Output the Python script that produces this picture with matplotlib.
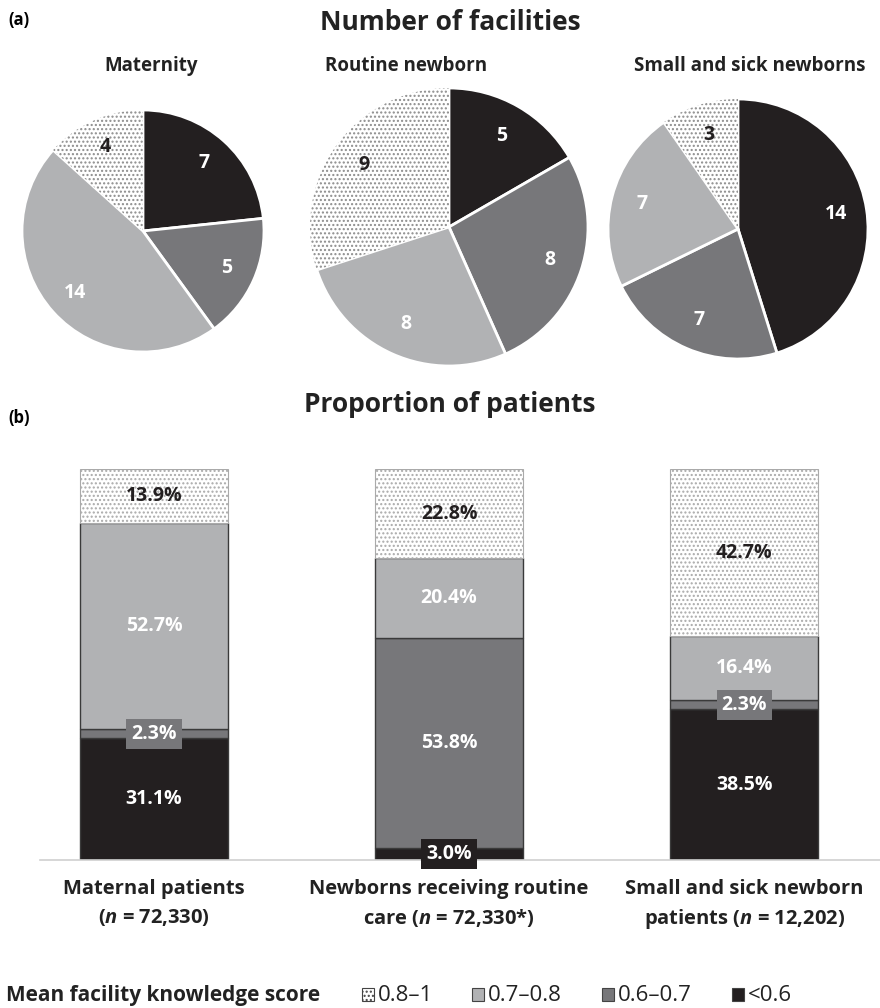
import matplotlib.pyplot as plt
from matplotlib.patches import Rectangle
import numpy as np

plt.rcParams['font.family'] = ['Open Sans', 'DejaVu Sans']
plt.rcParams['mathtext.fontset'] = 'custom'
plt.rcParams['mathtext.it'] = 'Open Sans:italic:bold'
plt.rcParams['mathtext.rm'] = 'Open Sans:bold'

# facility counts per score band: <0.6, 0.6-0.7, 0.7-0.8, 0.8-1
pie_titles = ["Maternity", "Routine newborn", "Small and sick newborns"]
fac_maternity = [7, 5, 14, 4]
fac_routine = [5, 8, 8, 9]
fac_small_sick = [14, 7, 7, 3]

# share of patients (%) per score band
bar_labels = ["Maternal patients\n($\\it{n}$ = 72,330)",
              "Newborns receiving routine\ncare ($\\it{n}$ = 72,330*)",
              "Small and sick newborn\npatients ($\\it{n}$ = 12,202)"]
pat_lt06 = [31.1, 3.0, 38.5]
pat_0607 = [2.3, 53.8, 2.3]
pat_0708 = [52.7, 20.4, 16.4]
pat_081 = [13.9, 22.8, 42.7]

band_names = ["0.8\u20131", "0.7\u20130.8", "0.6\u20130.7", "<0.6"]

BLACK = "#231f20"
DARK = "#77777a"
LIGHT = "#b1b2b4"
DOT = "#8c8c8c"
colors = [BLACK, DARK, LIGHT, "white"]
txt_colors = ["white", "white", "white", BLACK]

W, H = 880, 1008
fig = plt.figure(figsize=(W / 100, H / 100), dpi=100)


def px_axes(x0, y0, w, h):
    # y0 measured from top of figure, in pixels
    return fig.add_axes([x0 / W, 1 - (y0 + h) / H, w / W, h / H])


# ---- (a) pies
fig.text(8 / W, 1 - 20 / H, "(a)", fontsize=12, fontweight="bold", va="center")
fig.text(450 / W, 1 - 22 / H, "Number of facilities", fontsize=19,
         fontweight="bold", ha="center", va="center", color="#222222")

pies = [fac_maternity, fac_routine, fac_small_sick]
centers = [(143, 231, 121), (449, 227, 139), (738, 229, 130)]
title_x = [151, 406, 750]
for counts, (cx, cy, r), title, tx in zip(pies, centers, pie_titles, title_x):
    fig.text(tx / W, 1 - 66 / H, title, fontsize=13.5, fontweight="bold",
             ha="center", va="center", color="#222222")
    ax = px_axes(cx - r, cy - r, 2 * r, 2 * r)
    wedges, _ = ax.pie(counts, colors=colors, startangle=90, counterclock=False,
                       radius=1, wedgeprops=dict(edgecolor="white", linewidth=2))
    dot = wedges[3]
    dot.set_hatch("....")
    dot.set_edgecolor(DOT)
    dot.set_linewidth(0)
    total = sum(counts)
    start = 90
    for v, tc in zip(counts, txt_colors):
        mid = np.deg2rad(start - 360 * v / total / 2)
        start -= 360 * v / total
        ax.text(0.76 * np.cos(mid), 0.76 * np.sin(mid), str(v), ha="center",
                va="center", fontsize=14, fontweight="bold", color=tc)
    ax.set_xlim(-1, 1)
    ax.set_ylim(-1, 1)
    ax.set_aspect("equal")
    ax.axis("off")

# ---- (b) stacked bars
fig.text(8 / W, 1 - 418 / H, "(b)", fontsize=12, fontweight="bold", va="center")
fig.text(450 / W, 1 - 404 / H, "Proportion of patients", fontsize=19,
         fontweight="bold", ha="center", va="center", color="#222222")

bx = px_axes(40, 469, 840, 391)
x = np.arange(3)
bottom = np.zeros(3)
layers = [pat_lt06, pat_0607, pat_0708, pat_081]
layer_cols = [BLACK, DARK, LIGHT, "white"]
layer_txt = ["white", "white", "white", BLACK]
for vals, fc, tc in zip(layers, layer_cols, layer_txt):
    vals = np.array(vals)
    if fc == "white":
        bx.bar(x, vals, 0.5, bottom=bottom, color="white", hatch="....",
               edgecolor="#aaaaaa", linewidth=0.8)
    else:
        bx.bar(x, vals, 0.5, bottom=bottom, color=fc, edgecolor="#3a3a3a",
               linewidth=1)
    for xi, v, b0 in zip(x, vals, bottom):
        box = None
        if v < 5:
            box = dict(boxstyle="square,pad=0.25", facecolor=fc, edgecolor="none")
        bx.text(xi, b0 + v / 2, f"{v:.1f}%", ha="center", va="center",
                fontsize=14, fontweight="bold", color=tc, bbox=box)
    bottom += vals

bx.set_xlim(-0.386, 2.46)
bx.set_ylim(0, 100)
for s in ["top", "right", "left"]:
    bx.spines[s].set_visible(False)
bx.spines["bottom"].set_color("#d0d0d0")
bx.spines["bottom"].set_linewidth(1.2)
bx.set_yticks([])
bx.set_xticks(x)
bx.set_xticklabels(bar_labels, fontsize=14.5, fontweight="bold", color="#222222",
                   linespacing=1.45)
bx.tick_params(axis="x", length=0, pad=14)

# ---- legend row
LEG_Y = 1001
fig.text(6 / W, 1 - LEG_Y / H, "Mean facility knowledge score", fontsize=15,
         fontweight="bold", va="baseline", color="#222222")
sq_x = [362, 472, 602, 732]
for sx, name, fc in zip(sq_x, band_names, ["white", LIGHT, DARK, BLACK]):
    sq = Rectangle((sx / W, 1 - LEG_Y / H), 12 / W, 13 / H,
                   transform=fig.transFigure, facecolor=fc,
                   edgecolor="#444444", linewidth=0.8,
                   hatch="...." if fc == "white" else None)
    fig.patches.append(sq)
    fig.text((sx + 16) / W, 1 - LEG_Y / H, name, fontsize=16, va="baseline",
             color="#222222")

fig.savefig("out.png", dpi=100)
